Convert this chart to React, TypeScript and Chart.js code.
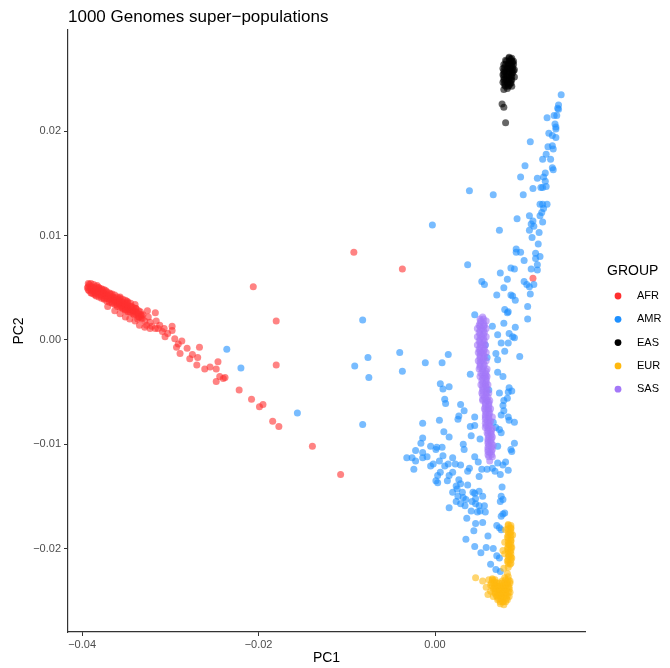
import { useEffect, useRef } from "react";
import { Chart, registerables } from "chart.js";

Chart.register(...registerables);

const TITLE = "1000 Genomes super\u2212populations";
const X_TITLE = "PC1";
const Y_TITLE = "PC2";
const LEGEND_TITLE = "GROUP";
const GROUPS = ["AFR", "AMR", "EAS", "EUR", "SAS"];
const COLORS = ["#FF3030", "#1E90FF", "#000000", "#FFB90F", "#A478F8"];
const X_TICKS = [-0.04, -0.02, 0.0];
const Y_TICKS = [-0.02, -0.01, 0.0, 0.01, 0.02];

const AFR: [number, number][] = [
  [-0.0394, 0.0050], [-0.0392, 0.0053], [-0.0392, 0.0047], [-0.0389, 0.0051], [-0.0389, 0.0045],
  [-0.0385, 0.0049], [-0.0385, 0.0043], [-0.0383, 0.0052], [-0.0382, 0.0046], [-0.0380, 0.0048],
  [-0.0378, 0.0042], [-0.0376, 0.0045], [-0.0375, 0.0040], [-0.0373, 0.0047], [-0.0372, 0.0042],
  [-0.0369, 0.0039], [-0.0368, 0.0044], [-0.0366, 0.0036], [-0.0365, 0.0041], [-0.0363, 0.0038],
  [-0.0361, 0.0034], [-0.0359, 0.0039], [-0.0358, 0.0035], [-0.0356, 0.0032], [-0.0355, 0.0036],
  [-0.0352, 0.0034], [-0.0351, 0.0029], [-0.0349, 0.0035], [-0.0348, 0.0031], [-0.0346, 0.0027],
  [-0.0344, 0.0032], [-0.0342, 0.0028], [-0.0341, 0.0024], [-0.0339, 0.0030], [-0.0338, 0.0026],
  [-0.0335, 0.0022], [-0.0334, 0.0027], [-0.0332, 0.0020], [-0.0331, 0.0024], [-0.0329, 0.0018],
  [-0.0357, 0.0041], [-0.0349, 0.0037], [-0.0340, 0.0034], [-0.0325, 0.0022], [-0.0323, 0.0017],
  [-0.0321, 0.0013], [-0.0317, 0.0026], [-0.0316, 0.0018], [-0.0314, 0.0011], [-0.0309, 0.0008],
  [-0.0306, 0.0003], [-0.0303, 0.0006], [-0.0298, 0.0013], [-0.0298, 0.0009], [-0.0295, 0.0001],
  [-0.0291, -0.0004], [-0.0287, -0.0001], [-0.0293, -0.0007], [-0.0281, -0.0008], [-0.0289, -0.0013],
  [-0.0275, -0.0014], [-0.0278, -0.0018], [-0.0267, -0.0007], [-0.0269, -0.0017], [-0.0270, -0.0024],
  [-0.0261, -0.0028], [-0.0255, -0.0026], [-0.0248, -0.0028], [-0.0246, -0.0021], [-0.0244, -0.0035],
  [-0.0240, -0.0037], [-0.0248, -0.0040], [-0.0238, -0.0036], [-0.0222, -0.0048], [-0.0208, -0.0057],
  [-0.0199, -0.0064], [-0.0195, -0.0062], [-0.0184, -0.0078], [-0.0177, -0.0083], [-0.0139, -0.0102],
  [-0.0206, 0.0051], [-0.0180, 0.0018], [-0.0180, -0.0024], [-0.0092, 0.0084], [-0.0037, 0.0068],
  [0.0111, 0.0059], [-0.0107, -0.0129],
  [-0.0390, 0.0049], [-0.0386, 0.0046], [-0.0381, 0.0050], [-0.0377, 0.0048], [-0.0374, 0.0044],
  [-0.0367, 0.0040], [-0.0360, 0.0036], [-0.0354, 0.0031], [-0.0347, 0.0029], [-0.0333, 0.0023],
  [-0.0327, 0.0014], [-0.0312, 0.0014], [-0.0307, 0.0011],
  [-0.0393, 0.0048], [-0.0393, 0.0051], [-0.0393, 0.0054],
  [-0.0390, 0.0045], [-0.0390, 0.0048], [-0.0390, 0.0051], [-0.0390, 0.0054],
  [-0.0387, 0.0044], [-0.0387, 0.0047], [-0.0387, 0.0050], [-0.0387, 0.0053],
  [-0.0384, 0.0042], [-0.0384, 0.0045], [-0.0384, 0.0048], [-0.0384, 0.0051],
  [-0.0381, 0.0041], [-0.0381, 0.0044], [-0.0381, 0.0047], [-0.0381, 0.0050],
  [-0.0378, 0.0040], [-0.0378, 0.0043], [-0.0378, 0.0046], [-0.0378, 0.0049],
  [-0.0375, 0.0039], [-0.0375, 0.0042], [-0.0375, 0.0045], [-0.0375, 0.0048],
  [-0.0372, 0.0037], [-0.0372, 0.0040], [-0.0372, 0.0043], [-0.0372, 0.0046],
  [-0.0369, 0.0036], [-0.0369, 0.0039], [-0.0369, 0.0042], [-0.0369, 0.0045],
  [-0.0366, 0.0035], [-0.0366, 0.0038], [-0.0366, 0.0041], [-0.0366, 0.0044],
  [-0.0363, 0.0034], [-0.0363, 0.0037], [-0.0363, 0.0040], [-0.0363, 0.0043],
  [-0.0360, 0.0032], [-0.0360, 0.0035], [-0.0360, 0.0038], [-0.0360, 0.0041],
  [-0.0357, 0.0031], [-0.0357, 0.0034], [-0.0357, 0.0037], [-0.0357, 0.0040],
  [-0.0354, 0.0030], [-0.0354, 0.0033], [-0.0354, 0.0036], [-0.0354, 0.0039],
  [-0.0351, 0.0029], [-0.0351, 0.0032], [-0.0351, 0.0035], [-0.0351, 0.0038],
  [-0.0348, 0.0027], [-0.0348, 0.0030], [-0.0348, 0.0033], [-0.0348, 0.0036],
  [-0.0345, 0.0026], [-0.0345, 0.0029], [-0.0345, 0.0032], [-0.0345, 0.0035],
  [-0.0342, 0.0025], [-0.0342, 0.0028], [-0.0342, 0.0031],
  [-0.0339, 0.0024], [-0.0339, 0.0027], [-0.0339, 0.0030],
  [-0.0336, 0.0022], [-0.0336, 0.0025], [-0.0336, 0.0028],
  [-0.0333, 0.0021], [-0.0333, 0.0024],
  [-0.0363, 0.0028], [-0.0357, 0.0025], [-0.0351, 0.0022], [-0.0346, 0.0020], [-0.0340, 0.0018],
  [-0.0335, 0.0014], [-0.0329, 0.0012], [-0.0371, 0.0032], [-0.0351, 0.0028], [-0.0337, 0.0020],
  [-0.0323, 0.0011], [-0.0326, 0.0028], [-0.0317, 0.0011],
];

const AMR: [number, number][] = [
  [-0.0236, -0.0009], [-0.0220, -0.0027], [-0.0156, -0.0070], [-0.0082, 0.0019], [-0.0076, -0.0017],
  [-0.0091, -0.0025], [-0.0075, -0.0036], [-0.0040, -0.0012], [-0.0037, -0.0030], [-0.0011, -0.0022],
  [0.0008, -0.0022], [0.0015, -0.0014], [-0.0082, -0.0081], [-0.0003, 0.0110], [0.0037, 0.0072],
  [0.0039, 0.0143], [0.0066, 0.0139], [0.0053, 0.0056], [0.0056, 0.0053], [0.0045, 0.0024],
  [0.0143, 0.0235], [0.0140, 0.0225], [0.0139, 0.0222], [0.0140, 0.0221], [0.0127, 0.0213],
  [0.0138, 0.0215], [0.0135, 0.0215], [0.0136, 0.0207], [0.0137, 0.0204], [0.0137, 0.0202],
  [0.0108, 0.0190], [0.0129, 0.0198], [0.0133, 0.0196], [0.0137, 0.0194], [0.0128, 0.0185],
  [0.0133, 0.0186], [0.0134, 0.0183], [0.0126, 0.0178], [0.0122, 0.0173], [0.0131, 0.0173],
  [0.0102, 0.0167], [0.0133, 0.0165], [0.0134, 0.0163], [0.0097, 0.0156], [0.0116, 0.0155],
  [0.0125, 0.0160], [0.0123, 0.0156], [0.0125, 0.0152], [0.0126, 0.0147], [0.0120, 0.0146],
  [0.0122, 0.0146], [0.0111, 0.0145], [0.0100, 0.0139], [0.0119, 0.0130], [0.0122, 0.0130],
  [0.0127, 0.0130], [0.0123, 0.0126], [0.0121, 0.0122], [0.0119, 0.0119], [0.0093, 0.0116],
  [0.0107, 0.0119], [0.0111, 0.0114], [0.0109, 0.0111], [0.0122, 0.0113], [0.0107, 0.0105],
  [0.0112, 0.0109], [0.0118, 0.0103], [0.0073, 0.0105], [0.0110, 0.0098], [0.0117, 0.0092],
  [0.0092, 0.0087], [0.0097, 0.0084], [0.0092, 0.0084], [0.0114, 0.0083], [0.0101, 0.0076],
  [0.0114, 0.0078], [0.0119, 0.0080], [0.0086, 0.0069], [0.0090, 0.0068], [0.0109, 0.0068],
  [0.0116, 0.0072], [0.0116, 0.0067], [0.0074, 0.0064], [0.0082, 0.0058], [0.0101, 0.0056],
  [0.0104, 0.0053], [0.0107, 0.0051], [0.0112, 0.0053], [0.0078, 0.0050], [0.0070, 0.0043],
  [0.0086, 0.0043], [0.0088, 0.0042], [0.0091, 0.0038], [0.0108, 0.0044], [0.0079, 0.0029],
  [0.0083, 0.0027], [0.0082, 0.0026], [0.0105, 0.0032], [0.0078, 0.0016], [0.0065, 0.0013],
  [0.0091, 0.0012], [0.0071, 0.0005], [0.0084, 0.0006], [0.0088, 0.0003], [0.0105, 0.0020],
  [0.0090, 0.0002], [0.0083, -0.0003], [0.0075, -0.0003], [0.0079, -0.0011], [0.0069, -0.0013],
  [0.0071, -0.0019], [0.0059, -0.0017], [0.0096, -0.0016], [0.0057, -0.0005], [0.0040, -0.0033],
  [0.0071, -0.0031], [0.0077, -0.0035], [0.0006, -0.0042], [0.0009, -0.0047], [0.0016, -0.0045],
  [0.0061, -0.0048], [0.0073, -0.0051], [0.0084, -0.0046], [0.0087, -0.0049], [0.0083, -0.0050],
  [0.0011, -0.0057], [0.0012, -0.0061], [0.0078, -0.0058], [0.0082, -0.0056], [0.0029, -0.0062],
  [0.0033, -0.0068], [0.0077, -0.0063], [0.0078, -0.0068], [0.0027, -0.0073], [0.0026, -0.0076],
  [0.0045, -0.0074], [0.0075, -0.0072], [0.0083, -0.0074], [0.0084, -0.0077], [-0.0014, -0.0080],
  [0.0005, -0.0077], [0.0066, -0.0079], [0.0090, -0.0079], [0.0040, -0.0083], [0.0045, -0.0082],
  [0.0069, -0.0084], [0.0073, -0.0086], [0.0075, -0.0089], [0.0010, -0.0088], [0.0016, -0.0093],
  [0.0041, -0.0092], [0.0051, -0.0095], [-0.0014, -0.0094], [-0.0016, -0.0099], [-0.0005, -0.0102],
  [0.0002, -0.0103], [0.0008, -0.0103], [0.0032, -0.0100], [0.0033, -0.0105], [0.0071, -0.0102],
  [0.0090, -0.0099], [0.0086, -0.0105], [0.0087, -0.0107], [-0.0022, -0.0106], [-0.0014, -0.0108],
  [-0.0032, -0.0113], [-0.0026, -0.0113], [-0.0022, -0.0116], [-0.0024, -0.0124], [-0.0014, -0.0113],
  [-0.0009, -0.0112], [0.0001, -0.0105], [0.0009, -0.0111], [-0.0005, -0.0121], [-0.0002, -0.0119],
  [0.0005, -0.0116], [0.0011, -0.0121], [0.0020, -0.0113], [0.0015, -0.0119], [0.0023, -0.0119],
  [0.0029, -0.0120], [0.0039, -0.0123], [0.0045, -0.0112], [0.0049, -0.0117], [0.0053, -0.0124],
  [0.0059, -0.0124], [0.0065, -0.0123], [0.0068, -0.0126], [0.0074, -0.0129], [0.0080, -0.0117],
  [0.0077, -0.0120], [0.0071, -0.0118], [0.0083, -0.0125], [0.0006, -0.0127], [0.0003, -0.0130],
  [0.0016, -0.0130], [0.0020, -0.0127], [0.0050, -0.0131], [0.0037, -0.0126], [0.0001, -0.0135],
  [0.0003, -0.0137], [0.0014, -0.0135], [0.0027, -0.0134], [0.0029, -0.0138], [0.0024, -0.0140],
  [0.0025, -0.0143], [0.0037, -0.0139], [0.0020, -0.0146], [0.0031, -0.0146], [0.0026, -0.0150],
  [0.0043, -0.0146], [0.0045, -0.0147], [0.0050, -0.0145], [0.0032, -0.0151], [0.0046, -0.0152],
  [0.0054, -0.0150], [0.0024, -0.0155], [0.0029, -0.0157], [0.0035, -0.0153], [0.0034, -0.0159],
  [0.0042, -0.0155], [0.0046, -0.0157], [0.0050, -0.0159], [0.0056, -0.0159], [0.0041, -0.0164],
  [0.0048, -0.0165], [0.0051, -0.0164], [0.0057, -0.0165], [0.0016, -0.0161], [0.0076, -0.0141],
  [0.0075, -0.0150], [0.0077, -0.0153], [0.0074, -0.0155], [0.0075, -0.0169], [0.0077, -0.0167],
  [0.0079, -0.0166], [0.0036, -0.0171], [0.0046, -0.0176], [0.0054, -0.0175], [0.0044, -0.0183],
  [0.0070, -0.0178], [0.0073, -0.0180], [0.0075, -0.0182], [0.0060, -0.0188], [0.0035, -0.0191],
  [0.0045, -0.0198], [0.0058, -0.0199], [0.0066, -0.0200], [0.0052, -0.0204], [0.0070, -0.0207],
  [0.0073, -0.0209], [0.0063, -0.0215], [0.0069, -0.0220], [0.0074, -0.0222],
];

const EAS: [number, number][] = [
  [0.0084, 0.0271], [0.0086, 0.0269], [0.0080, 0.0268], [0.0085, 0.0267], [0.0088, 0.0266],
  [0.0078, 0.0264], [0.0083, 0.0264], [0.0087, 0.0263], [0.0077, 0.0260], [0.0082, 0.0260],
  [0.0086, 0.0260], [0.0090, 0.0259], [0.0079, 0.0257], [0.0084, 0.0257], [0.0088, 0.0256],
  [0.0077, 0.0254], [0.0082, 0.0253], [0.0086, 0.0253], [0.0090, 0.0252], [0.0079, 0.0250],
  [0.0084, 0.0250], [0.0087, 0.0249], [0.0077, 0.0247], [0.0082, 0.0246], [0.0086, 0.0246],
  [0.0079, 0.0244], [0.0084, 0.0244], [0.0087, 0.0243], [0.0082, 0.0241],
  [0.0078, 0.0240], [0.0076, 0.0226], [0.0078, 0.0223], [0.0080, 0.0208],
  [0.0084, 0.0270], [0.0087, 0.0270],
  [0.0081, 0.0267], [0.0084, 0.0267], [0.0087, 0.0267], [0.0089, 0.0267],
  [0.0080, 0.0264], [0.0083, 0.0264], [0.0086, 0.0264], [0.0089, 0.0264],
  [0.0079, 0.0261], [0.0082, 0.0261], [0.0085, 0.0261], [0.0088, 0.0261],
  [0.0078, 0.0258], [0.0081, 0.0258], [0.0084, 0.0258], [0.0087, 0.0258], [0.0089, 0.0258],
  [0.0078, 0.0255], [0.0081, 0.0255], [0.0084, 0.0255], [0.0087, 0.0255],
  [0.0078, 0.0252], [0.0081, 0.0252], [0.0084, 0.0252], [0.0087, 0.0252],
  [0.0078, 0.0249], [0.0081, 0.0249], [0.0083, 0.0249], [0.0086, 0.0249],
  [0.0079, 0.0246], [0.0082, 0.0246], [0.0085, 0.0246],
  [0.0080, 0.0243], [0.0083, 0.0243],
];

const EUR: [number, number][] = [
  [0.0083, -0.0177], [0.0086, -0.0180], [0.0080, -0.0182], [0.0085, -0.0185], [0.0088, -0.0187],
  [0.0082, -0.0189], [0.0086, -0.0192], [0.0079, -0.0194], [0.0084, -0.0196], [0.0087, -0.0199],
  [0.0082, -0.0200], [0.0085, -0.0203], [0.0079, -0.0205], [0.0084, -0.0207], [0.0087, -0.0209],
  [0.0082, -0.0212], [0.0085, -0.0215], [0.0077, -0.0202], [0.0083, -0.0218], [0.0082, -0.0224],
  [0.0078, -0.0219],
  [0.0046, -0.0228], [0.0054, -0.0231], [0.0058, -0.0237], [0.0061, -0.0230], [0.0065, -0.0229],
  [0.0068, -0.0232], [0.0063, -0.0235], [0.0067, -0.0238], [0.0071, -0.0236], [0.0076, -0.0231],
  [0.0079, -0.0228], [0.0083, -0.0227], [0.0085, -0.0231], [0.0082, -0.0234], [0.0077, -0.0237],
  [0.0073, -0.0240], [0.0068, -0.0243], [0.0063, -0.0241], [0.0066, -0.0246], [0.0070, -0.0246],
  [0.0075, -0.0243], [0.0079, -0.0240], [0.0084, -0.0237], [0.0085, -0.0242], [0.0080, -0.0245],
  [0.0076, -0.0247], [0.0071, -0.0249], [0.0077, -0.0251], [0.0082, -0.0249], [0.0078, -0.0254],
  [0.0074, -0.0253], [0.0084, -0.0246], [0.0060, -0.0244],
  [0.0083, -0.0178], [0.0086, -0.0178], [0.0083, -0.0181], [0.0086, -0.0181],
  [0.0083, -0.0184], [0.0086, -0.0184], [0.0083, -0.0187], [0.0086, -0.0187],
  [0.0083, -0.0190], [0.0086, -0.0190], [0.0083, -0.0193], [0.0086, -0.0193],
  [0.0083, -0.0196], [0.0086, -0.0196], [0.0083, -0.0199], [0.0086, -0.0199],
  [0.0083, -0.0202], [0.0086, -0.0202], [0.0083, -0.0205], [0.0086, -0.0205],
  [0.0083, -0.0208], [0.0086, -0.0208], [0.0083, -0.0211], [0.0086, -0.0211],
  [0.0083, -0.0214], [0.0086, -0.0214],
  [0.0065, -0.0230], [0.0068, -0.0230], [0.0080, -0.0230], [0.0083, -0.0230],
  [0.0064, -0.0233], [0.0067, -0.0233], [0.0070, -0.0233], [0.0073, -0.0233],
  [0.0076, -0.0233], [0.0079, -0.0233], [0.0082, -0.0233], [0.0085, -0.0233],
  [0.0065, -0.0236], [0.0068, -0.0236], [0.0071, -0.0236], [0.0074, -0.0236],
  [0.0077, -0.0236], [0.0080, -0.0236], [0.0083, -0.0236],
  [0.0066, -0.0239], [0.0069, -0.0239], [0.0072, -0.0239], [0.0075, -0.0239],
  [0.0078, -0.0239], [0.0081, -0.0239], [0.0084, -0.0239],
  [0.0068, -0.0242], [0.0071, -0.0242], [0.0074, -0.0242], [0.0077, -0.0242],
  [0.0080, -0.0242], [0.0083, -0.0242],
  [0.0070, -0.0245], [0.0073, -0.0245], [0.0076, -0.0245], [0.0079, -0.0245], [0.0082, -0.0245],
  [0.0072, -0.0248], [0.0075, -0.0248], [0.0078, -0.0248], [0.0081, -0.0248],
  [0.0074, -0.0251], [0.0077, -0.0251], [0.0080, -0.0251],
];

const SAS: [number, number][] = [
  [0.0054, 0.0022], [0.0052, 0.0018], [0.0058, 0.0018], [0.0050, 0.0014], [0.0056, 0.0014],
  [0.0048, 0.0011], [0.0053, 0.0011], [0.0058, 0.0011], [0.0050, 0.0007], [0.0056, 0.0007],
  [0.0048, 0.0003], [0.0053, 0.0003], [0.0058, 0.0003], [0.0050, -0.0001], [0.0056, -0.0001],
  [0.0048, -0.0005], [0.0052, -0.0005], [0.0057, -0.0005], [0.0050, -0.0009], [0.0056, -0.0009],
  [0.0049, -0.0012], [0.0053, -0.0012], [0.0058, -0.0012], [0.0051, -0.0016], [0.0056, -0.0016],
  [0.0049, -0.0020], [0.0053, -0.0020], [0.0058, -0.0020], [0.0051, -0.0024], [0.0056, -0.0024],
  [0.0050, -0.0028], [0.0054, -0.0028], [0.0059, -0.0028], [0.0052, -0.0032], [0.0057, -0.0032],
  [0.0051, -0.0035], [0.0056, -0.0035], [0.0059, -0.0035], [0.0053, -0.0039], [0.0058, -0.0039],
  [0.0052, -0.0043], [0.0057, -0.0043], [0.0060, -0.0043], [0.0054, -0.0047], [0.0059, -0.0047],
  [0.0053, -0.0051], [0.0058, -0.0051], [0.0061, -0.0051], [0.0056, -0.0055], [0.0060, -0.0055],
  [0.0054, -0.0058], [0.0059, -0.0058], [0.0062, -0.0058], [0.0057, -0.0062], [0.0061, -0.0062],
  [0.0056, -0.0066], [0.0060, -0.0066], [0.0063, -0.0066], [0.0058, -0.0070], [0.0062, -0.0070],
  [0.0057, -0.0074], [0.0061, -0.0074], [0.0065, -0.0074], [0.0059, -0.0078], [0.0063, -0.0078],
  [0.0058, -0.0082], [0.0062, -0.0082], [0.0060, -0.0085], [0.0065, -0.0085], [0.0059, -0.0089],
  [0.0063, -0.0089], [0.0061, -0.0093], [0.0065, -0.0093], [0.0060, -0.0097], [0.0063, -0.0097],
  [0.0061, -0.0101], [0.0066, -0.0101], [0.0060, -0.0105], [0.0065, -0.0105], [0.0062, -0.0108],
  [0.0061, -0.0112], [0.0065, -0.0112], [0.0062, -0.0116],
  [0.0051, 0.0020], [0.0055, 0.0020], [0.0051, 0.0016], [0.0055, 0.0016], [0.0051, 0.0013],
  [0.0055, 0.0013], [0.0051, 0.0009], [0.0055, 0.0009], [0.0051, 0.0005], [0.0055, 0.0005],
  [0.0051, 0.0001], [0.0055, 0.0001], [0.0051, -0.0003], [0.0055, -0.0003], [0.0051, -0.0007],
  [0.0055, -0.0007], [0.0051, -0.0011], [0.0055, -0.0011], [0.0051, -0.0014], [0.0055, -0.0014],
  [0.0051, -0.0018], [0.0055, -0.0018], [0.0051, -0.0022], [0.0055, -0.0022], [0.0051, -0.0026],
  [0.0055, -0.0026], [0.0054, -0.0030], [0.0058, -0.0030], [0.0054, -0.0034], [0.0058, -0.0034],
  [0.0054, -0.0037], [0.0058, -0.0037], [0.0054, -0.0041], [0.0058, -0.0041], [0.0054, -0.0045],
  [0.0058, -0.0045], [0.0054, -0.0049], [0.0058, -0.0049], [0.0054, -0.0053], [0.0058, -0.0053],
  [0.0054, -0.0057], [0.0058, -0.0057], [0.0057, -0.0060], [0.0061, -0.0060], [0.0057, -0.0064],
  [0.0061, -0.0064], [0.0057, -0.0068], [0.0061, -0.0068], [0.0057, -0.0072], [0.0061, -0.0072],
  [0.0057, -0.0076], [0.0061, -0.0076], [0.0057, -0.0080], [0.0061, -0.0080], [0.0057, -0.0084],
  [0.0061, -0.0084], [0.0060, -0.0087], [0.0064, -0.0087], [0.0060, -0.0091], [0.0064, -0.0091],
  [0.0060, -0.0095], [0.0064, -0.0095], [0.0060, -0.0099], [0.0064, -0.0099], [0.0060, -0.0103],
  [0.0064, -0.0103], [0.0060, -0.0107], [0.0064, -0.0107], [0.0060, -0.0110], [0.0064, -0.0110],
];

const SERIES = [AFR, AMR, EAS, EUR, SAS];
const DRAW_ORDER = [4, 3, 2, 1, 0];

const FONT = '"Liberation Sans", Arial, Helvetica, sans-serif';

function rgba(hex: string, a: number) {
  const n = parseInt(hex.slice(1), 16);
  return `rgba(${(n >> 16) & 255},${(n >> 8) & 255},${n & 255},${a})`;
}

function fmt(v: number) {
  const s = Math.abs(v).toFixed(2);
  return v < -1e-9 ? "\u2212" + s : s;
}

const annotations = {
  id: "annotations",
  afterDraw(chart: any) {
    const { ctx, chartArea } = chart;
    ctx.save();
    ctx.fillStyle = "#000000";
    ctx.textBaseline = "middle";
    ctx.textAlign = "left";
    ctx.font = `17px ${FONT}`;
    ctx.fillText(TITLE, chartArea.left, 17);

    ctx.font = `14px ${FONT}`;
    ctx.textAlign = "center";
    ctx.fillText(X_TITLE, (chartArea.left + chartArea.right) / 2, 658);
    ctx.save();
    ctx.translate(19, (chartArea.top + chartArea.bottom) / 2);
    ctx.rotate(-Math.PI / 2);
    ctx.fillText(Y_TITLE, 0, 0);
    ctx.restore();

    ctx.textAlign = "left";
    ctx.fillText(LEGEND_TITLE, 607, 271);
    ctx.font = `11px ${FONT}`;
    chart.data.datasets.forEach((ds: any, i: number) => {
      const y = 296 + i * 23.3;
      ctx.fillStyle = COLORS[i];
      ctx.beginPath();
      ctx.arc(618, y, 3.4, 0, Math.PI * 2);
      ctx.fill();
      ctx.fillStyle = "#000000";
      ctx.fillText(ds.label, 637, y);
    });
    ctx.restore();
  },
};

export default function App() {
  const ref = useRef<HTMLCanvasElement | null>(null);
  useEffect(() => {
    if (!ref.current) return;
    const chart = new Chart(ref.current, {
      type: "scatter",
      data: {
        datasets: SERIES.map((pts, i) => ({
          label: GROUPS[i],
          data: pts.map(([x, y]) => ({ x, y })),
          backgroundColor: rgba(COLORS[i], 0.6),
          borderWidth: 0,
          pointRadius: 3.5,
          pointHoverRadius: 3.5,
          pointBorderWidth: 0,
          order: DRAW_ORDER[i],
        })),
      },
      options: {
        animation: false,
        responsive: false,
        maintainAspectRatio: false,
        events: [],
        layout: { padding: { top: 30, right: 85, left: 0, bottom: 0 } },
        plugins: {
          legend: { display: false },
          title: { display: false },
          tooltip: { enabled: false },
        },
        scales: {
          x: {
            type: "linear",
            min: -0.0416,
            max: 0.0170,
            afterFit: (s: any) => {
              s.height = 36;
            },
            afterBuildTicks: (s: any) => {
              s.ticks = X_TICKS.map((v) => ({ value: v }));
            },
            grid: {
              display: true,
              drawOnChartArea: false,
              drawTicks: true,
              tickLength: 4,
              color: "#333333",
              lineWidth: 1,
            },
            border: { display: true, color: "#333333", width: 1.2 },
            ticks: {
              color: "#4D4D4D",
              font: { family: FONT, size: 11 },
              padding: 2,
              maxRotation: 0,
              callback: (v: any) => fmt(Number(v)),
            },
          },
          y: {
            type: "linear",
            min: -0.0280,
            max: 0.0297,
            afterFit: (s: any) => {
              s.width = 68;
            },
            afterBuildTicks: (s: any) => {
              s.ticks = Y_TICKS.map((v) => ({ value: v }));
            },
            grid: {
              display: true,
              drawOnChartArea: false,
              drawTicks: true,
              tickLength: 4,
              color: "#333333",
              lineWidth: 1,
            },
            border: { display: true, color: "#333333", width: 1.2 },
            ticks: {
              color: "#4D4D4D",
              font: { family: FONT, size: 11 },
              padding: 3,
              callback: (v: any) => fmt(Number(v)),
            },
          },
        },
      },
      plugins: [annotations],
    });
    return () => chart.destroy();
  }, []);

  return (
    <div style={{ position: "absolute", left: 0, top: 0, width: 670, height: 668, background: "#ffffff" }}>
      <canvas ref={ref} width={670} height={668} style={{ width: 670, height: 668, display: "block" }} />
    </div>
  );
}
